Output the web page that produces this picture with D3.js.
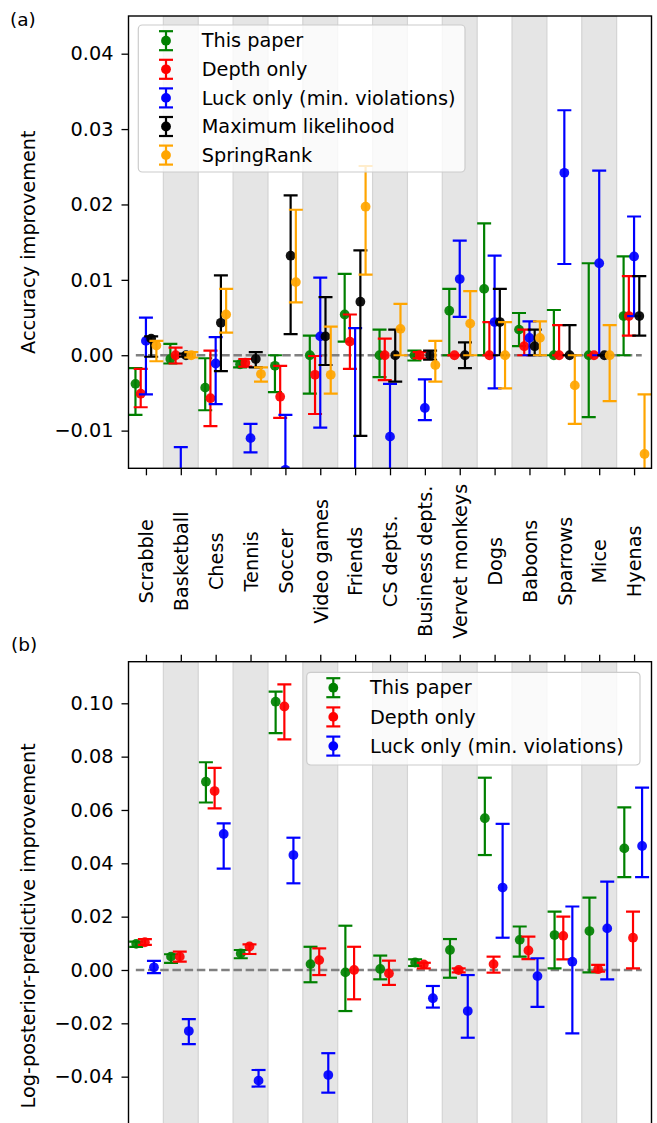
<!DOCTYPE html>
<html>
<head>
<meta charset="utf-8">
<script src="https://cdn.jsdelivr.net/npm/d3@7/dist/d3.min.js"></script>
<style>
  html, body { margin: 0; padding: 0; background: #fff; }
  svg { display: block; font-family: "DejaVu Sans", sans-serif; }
</style>
</head>
<body>
<svg id="chart" width="657" height="1123"></svg>
<script>
// ---------- data ----------
const categories = ["Scrabble", "Basketball", "Chess", "Tennis", "Soccer", "Video games", "Friends",
  "CS depts.", "Business depts.", "Vervet monkeys", "Dogs", "Baboons", "Sparrows", "Mice", "Hyenas"];

// Panel (a): accuracy improvement (value, lower bound, upper bound)
const accThisPaper   = [-0.0038, -0.0005, -0.0043, -0.0012, -0.0014, 0.0000, 0.0054, 0.0000, 0.0000, 0.0059, 0.0088, 0.0034, 0.0000, 0.0000, 0.0052];
const accThisPaperLo = [-0.0079, -0.0011, -0.0073, -0.0016, -0.0049, -0.0051, 0.0018, -0.0029, -0.0007, 0.0000, 0.0000, 0.0012, 0.0000, -0.0082, 0.0000];
const accThisPaperHi = [-0.0017, 0.0015, -0.0004, -0.0008, 0.0000, 0.0026, 0.0108, 0.0034, 0.0006, 0.0088, 0.0175, 0.0056, 0.0060, 0.0122, 0.0131];

const accDepth   = [-0.0051, 0.0000, -0.0057, -0.0010, -0.0055, -0.0026, 0.0018, 0.0000, 0.0000, 0.0000, 0.0000, 0.0012, 0.0000, 0.0000, 0.0052];
const accDepthLo = [-0.0069, -0.0011, -0.0094, -0.0015, -0.0083, -0.0078, -0.0018, -0.0033, -0.0004, 0.0000, 0.0000, 0.0000, 0.0000, 0.0000, 0.0026];
const accDepthHi = [-0.0018, 0.0010, 0.0006, -0.0005, -0.0014, -0.0001, 0.0054, 0.0022, 0.0004, 0.0000, 0.0044, 0.0034, 0.0040, 0.0000, 0.0105];

const accLuck   = [0.0019, -0.0220, -0.0011, -0.0110, -0.0152, 0.0025, -0.0200, -0.0108, -0.0070, 0.0101, 0.0044, 0.0023, 0.0242, 0.0122, 0.0131];
const accLuckLo = [-0.0052, -0.0320, -0.0065, -0.0129, -0.0225, -0.0096, -0.0450, -0.0180, -0.0086, 0.0051, -0.0044, 0.0000, 0.0121, 0.0000, 0.0052];
const accLuckHi = [0.0050, -0.0122, 0.0024, -0.0091, -0.0079, 0.0103, 0.0036, -0.0038, -0.0032, 0.0152, 0.0132, 0.0045, 0.0325, 0.0245, 0.0184];

const accML   = [0.0022, 0.0000, 0.0043, -0.0005, 0.0132, 0.0025, 0.0071, 0.0000, 0.0000, 0.0000, 0.0044, 0.0012, 0.0000, 0.0000, 0.0052];
const accMLLo = [-0.0002, -0.0002, -0.0021, -0.0016, 0.0028, -0.0013, -0.0107, -0.0035, -0.0006, -0.0017, 0.0000, 0.0000, 0.0000, 0.0000, 0.0026];
const accMLHi = [0.0025, 0.0002, 0.0106, 0.0004, 0.0212, 0.0077, 0.0139, 0.0034, 0.0006, 0.0017, 0.0088, 0.0034, 0.0040, 0.0000, 0.0105];

const accSpring   = [0.0013, 0.0000, 0.0054, -0.0025, 0.0097, -0.0026, 0.0197, 0.0035, -0.0013, 0.0042, 0.0000, 0.0023, -0.0040, 0.0000, -0.0131];
const accSpringLo = [-0.0008, -0.0003, 0.0030, -0.0035, 0.0070, -0.0051, 0.0107, 0.0000, -0.0035, 0.0000, -0.0044, 0.0000, -0.0091, -0.0061, -0.0210];
const accSpringHi = [0.0019, 0.0004, 0.0088, -0.0016, 0.0193, 0.0038, 0.0251, 0.0068, 0.0019, 0.0085, 0.0044, 0.0045, 0.0000, 0.0040, -0.0052];

// Panel (b): log-posterior-predictive improvement
const lppThisPaper   = [0.0098, 0.0050, 0.0706, 0.0062, 0.1006, 0.0022, -0.0009, 0.0004, 0.0028, 0.0075, 0.0569, 0.0113, 0.0131, 0.0146, 0.0456];
const lppThisPaperLo = [0.0087, 0.0027, 0.0628, 0.0044, 0.0888, -0.0046, -0.0154, -0.0035, 0.0015, -0.0029, 0.0431, 0.0050, 0.0006, -0.0009, 0.0348];
const lppThisPaperHi = [0.0106, 0.0059, 0.0779, 0.0075, 0.1044, 0.0087, 0.0166, 0.0054, 0.0040, 0.0116, 0.0721, 0.0163, 0.0219, 0.0271, 0.0610];

const lppDepth   = [0.0104, 0.0050, 0.0671, 0.0088, 0.0988, 0.0037, 0.0000, -0.0013, 0.0021, 0.0000, 0.0022, 0.0073, 0.0128, 0.0003, 0.0121];
const lppDepthLo = [0.0094, 0.0031, 0.0606, 0.0060, 0.0865, -0.0019, -0.0110, -0.0056, 0.0006, -0.0009, -0.0010, 0.0041, 0.0040, -0.0006, 0.0006];
const lppDepthHi = [0.0116, 0.0069, 0.0758, 0.0096, 0.1071, 0.0081, 0.0087, 0.0035, 0.0027, 0.0006, 0.0050, 0.0125, 0.0200, 0.0019, 0.0219];

const lppLuck   = [0.0010, -0.0229, 0.0510, -0.0415, 0.0431, -0.0394, -0.0950, -0.0950, -0.0106, -0.0154, 0.0309, -0.0023, 0.0031, 0.0156, 0.0465];
const lppLuckLo = [-0.0012, -0.0278, 0.0380, -0.0437, 0.0325, -0.0460, -0.1100, -0.1100, -0.0141, -0.0254, 0.0121, -0.0138, -0.0238, -0.0035, 0.0348];
const lppLuckHi = [0.0034, -0.0184, 0.0550, -0.0375, 0.0496, -0.0312, -0.0800, -0.0800, -0.0060, -0.0019, 0.0548, 0.0044, 0.0238, 0.0331, 0.0684];

const seriesNamesA = ["This paper", "Depth only", "Luck only (min. violations)", "Maximum likelihood", "SpringRank"];
const seriesNamesB = ["This paper", "Depth only", "Luck only (min. violations)"];
const seriesColors = ["#008000", "#ff0000", "#0000ff", "#000000", "#ffa500"];
const tickValuesA = [-0.01, 0.00, 0.01, 0.02, 0.03, 0.04];
const tickValuesB = [-0.04, -0.02, 0.00, 0.02, 0.04, 0.06, 0.08, 0.10];

// ---------- layout ----------
const svg = d3.select("#chart");
const FS = 19.3;
const LW = 2.2;
const MR = 4.9;
const xL = 128.5, xR = 651.5;
const x = d3.scaleLinear().domain([-0.5, 14.5]).range([xL, xR]);
const aTop = 16, aBot = 468.3;
const bTop = 661.7, bBot = 1190;
const yA = d3.scaleLinear().domain([-0.015, 0.045]).range([aBot, aTop]);
const yB = d3.scaleLinear().domain([-0.0825, 0.1156]).range([bBot, bTop]);

const seriesA = [
  [accThisPaper, accThisPaperLo, accThisPaperHi],
  [accDepth, accDepthLo, accDepthHi],
  [accLuck, accLuckLo, accLuckHi],
  [accML, accMLLo, accMLHi],
  [accSpring, accSpringLo, accSpringHi]
];
const seriesB = [
  [lppThisPaper, lppThisPaperLo, lppThisPaperHi],
  [lppDepth, lppDepthLo, lppDepthHi],
  [lppLuck, lppLuckLo, lppLuckHi]
];
const offsetsA = [-0.30, -0.15, 0.0, 0.15, 0.30];
const offsetsB = [-0.28, -0.03, 0.23];

const defs = svg.append("defs");
defs.append("clipPath").attr("id", "clipA").append("rect")
  .attr("x", xL).attr("y", aTop).attr("width", xR - xL).attr("height", aBot - aTop);
defs.append("clipPath").attr("id", "clipB").append("rect")
  .attr("x", xL).attr("y", bTop).attr("width", xR - xL).attr("height", bBot - bTop);

function drawPanel(y, top, bot, series, offsets, clipId) {
  const g = svg.append("g").attr("clip-path", `url(#${clipId})`);
  // shaded bands
  const bandIdx = d3.range(categories.length).filter(i => i % 2 === 1);
  g.selectAll("rect.band").data(bandIdx).join("rect")
    .attr("class", "band")
    .attr("x", i => x(i - 0.5)).attr("width", i => x(i + 0.5) - x(i - 0.5))
    .attr("y", top).attr("height", bot - top)
    .attr("fill", "#e5e5e5").attr("stroke", "#d4d4d4").attr("stroke-width", 1.2);
  // zero line
  g.append("line")
    .attr("x1", x(-0.29)).attr("x2", x(14.22))
    .attr("y1", y(0)).attr("y2", y(0))
    .attr("stroke", "#808080").attr("stroke-width", 2.5)
    .attr("stroke-dasharray", "8.5,3.7");
  // series
  series.forEach((s, si) => {
    const [vals, lo, hi] = s;
    const col = seriesColors[si];
    const sg = g.append("g");
    const data = vals.map((v, i) => ({ i, v, lo: lo[i], hi: hi[i], cx: x(i + offsets[si]) }));
    sg.selectAll("line.err").data(data).join("line")
      .attr("x1", d => d.cx).attr("x2", d => d.cx)
      .attr("y1", d => y(d.lo)).attr("y2", d => y(d.hi))
      .attr("stroke", col).attr("stroke-width", LW);
    ["lo", "hi"].forEach(k => {
      sg.selectAll("line.cap" + k).data(data).join("line")
        .attr("x1", d => d.cx - 7).attr("x2", d => d.cx + 7)
        .attr("y1", d => y(d[k])).attr("y2", d => y(d[k]))
        .attr("stroke", col).attr("stroke-width", LW);
    });
    sg.selectAll("circle").data(data).join("circle")
      .attr("cx", d => d.cx).attr("cy", d => y(d.v)).attr("r", MR)
      .attr("fill", col).attr("fill-opacity", 0.92);
  });
}

drawPanel(yA, aTop, aBot, seriesA, offsetsA, "clipA");
drawPanel(yB, bTop, bBot, seriesB, offsetsB, "clipB");

// ---------- frames ----------
svg.append("rect").attr("x", xL).attr("y", aTop).attr("width", xR - xL).attr("height", aBot - aTop)
  .attr("fill", "none").attr("stroke", "#000").attr("stroke-width", 1.4);
svg.append("rect").attr("x", xL).attr("y", bTop).attr("width", xR - xL).attr("height", bBot - bTop)
  .attr("fill", "none").attr("stroke", "#000").attr("stroke-width", 1.4);

// ---------- axes ----------
function styleAxis(sel) {
  sel.select(".domain").remove();
  sel.selectAll(".tick line").attr("stroke", "#000").attr("stroke-width", 1.3);
  sel.selectAll(".tick text").attr("fill", "#000").style("font-size", FS + "px")
    .style("font-family", "DejaVu Sans, sans-serif");
}
const fmt = d3.format(".2f");
svg.append("g").attr("transform", `translate(${xL},0)`)
  .call(d3.axisLeft(yA).tickValues(tickValuesA).tickSize(7).tickPadding(8).tickFormat(fmt))
  .call(styleAxis);
svg.append("g").attr("transform", `translate(${xL},0)`)
  .call(d3.axisLeft(yB).tickValues(tickValuesB).tickSize(7).tickPadding(8).tickFormat(fmt))
  .call(styleAxis);

const xAxisA = svg.append("g").attr("transform", `translate(0,${aBot})`)
  .call(d3.axisBottom(x).tickValues(d3.range(categories.length)).tickSize(7).tickFormat(i => categories[i]))
  .call(styleAxis);
xAxisA.selectAll(".tick text")
  .attr("x", 0).attr("y", 0).attr("dy", "0.35em")
  .attr("transform", "translate(0,93) rotate(-90)")
  .style("text-anchor", "middle");

svg.append("g").attr("transform", `translate(0,${bTop})`)
  .call(d3.axisTop(x).tickValues(d3.range(categories.length)).tickSize(7).tickFormat(""))
  .call(styleAxis);

// axis titles
svg.append("text").attr("transform", `translate(35,${(aTop + aBot) / 2}) rotate(-90)`)
  .attr("text-anchor", "middle").style("font-size", FS + "px").text("Accuracy improvement");
svg.append("text").attr("transform", `translate(35,${(bTop + bBot) / 2}) rotate(-90)`)
  .attr("text-anchor", "middle").style("font-size", FS + "px").text("Log-posterior-predictive improvement");

// panel letters
svg.append("text").attr("x", 10).attr("y", 26).style("font-size", "18.5px").text("(a)");
svg.append("text").attr("x", 11).attr("y", 650.5).style("font-size", "18.5px").text("(b)");

// ---------- legends ----------
function drawLegend(x0, y0, w, h, names, hx, tx, rowY0, rowStep) {
  const lg = svg.append("g");
  lg.append("rect").attr("x", x0).attr("y", y0).attr("width", w).attr("height", h)
    .attr("rx", 4).attr("ry", 4)
    .attr("fill", "#fff").attr("fill-opacity", 0.8)
    .attr("stroke", "#cccccc").attr("stroke-width", 1.2);
  names.forEach((n, i) => {
    const cy = rowY0 + i * rowStep;
    const col = seriesColors[i];
    lg.append("line").attr("x1", hx).attr("x2", hx).attr("y1", cy - 9.5).attr("y2", cy + 9.5)
      .attr("stroke", col).attr("stroke-width", LW);
    [cy - 9.5, cy + 9.5].forEach(yy => lg.append("line")
      .attr("x1", hx - 7).attr("x2", hx + 7).attr("y1", yy).attr("y2", yy)
      .attr("stroke", col).attr("stroke-width", LW));
    lg.append("circle").attr("cx", hx).attr("cy", cy).attr("r", MR).attr("fill", col);
    lg.append("text").attr("x", tx).attr("y", cy).attr("dy", "0.35em")
      .style("font-size", FS + "px").text(n);
  });
}
drawLegend(138.3, 25, 326.7, 147, seriesNamesA, 166, 201.7, 40.7, 28.6);
drawLegend(306.7, 672.3, 333.3, 92.7, seriesNamesB, 333.3, 370, 687.7, 29.2);
</script>
</body>
</html>
